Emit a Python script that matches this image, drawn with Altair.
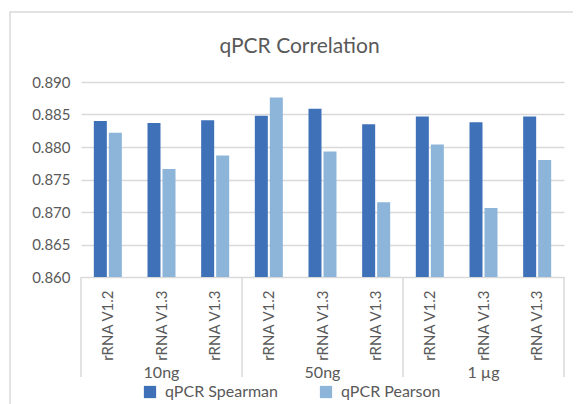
import altair as alt
import pandas as pd

title_text = "qPCR Correlation"
groups = ["10ng", "50ng", "1 µg"]
samples = ["rRNA V1.2", "rRNA V1.3", "rRNA V1.3"]
spearman = [0.8840, 0.8837, 0.8841, 0.8848, 0.8859, 0.8835, 0.8847, 0.8838, 0.8847]
pearson = [0.8822, 0.8766, 0.8787, 0.8876, 0.8793, 0.8715, 0.8804, 0.8706, 0.8780]
series = ["qPCR Spearman", "qPCR Pearson"]
colors = ["#3F71B9", "#8DB5DA"]
y_ticks = [0.860, 0.865, 0.870, 0.875, 0.880, 0.885, 0.890]

FONT = "Lato"
GRAY = "#595959"
LINE = "#d9d9d9"
W, H = 483, 195

ids = []
rows = []
k = 0
for g in groups:
    for s in samples:
        cid = f"{g}|{s}|{k}"
        ids.append(cid)
        rows.append({"cid": cid, "series": series[0], "value": spearman[k]})
        rows.append({"cid": cid, "series": series[1], "value": pearson[k]})
        k += 1
df = pd.DataFrame(rows)

n = len(samples)
starts = pd.DataFrame({"cid": [ids[i * n] for i in range(len(groups))]})
ends = pd.DataFrame({"cid": [ids[-1]]})
mids = pd.DataFrame({"cid": [ids[i * n + n // 2] for i in range(len(groups))], "group": groups})

xscale = alt.Scale(domain=ids, paddingInner=0, paddingOuter=0)

border = alt.Chart(alt.Data(values=[{"a": 1}])).mark_rect(
    fillOpacity=0, stroke=LINE, strokeWidth=1.5
).encode(
    x=alt.value(-71), x2=alt.value(W + 60), y=alt.value(-70), y2=alt.value(H + 150)
)

title = alt.Chart(alt.Data(values=[{"t": title_text}])).mark_text(
    font=FONT, fontSize=21, color=GRAY, baseline="alphabetic", align="center"
).encode(x=alt.value(218.5), y=alt.value(-29), text="t:N")

bars = alt.Chart(df).mark_bar().encode(
    x=alt.X("cid:N", sort=ids, scale=xscale,
            axis=alt.Axis(title=None, labelExpr="split(datum.value, '|')[1]", labelAngle=-90,
                          labelFont=FONT, labelFontSize=15, labelColor=GRAY, labelPadding=13,
                          ticks=False, domain=False, grid=False)),
    xOffset=alt.XOffset("series:N", sort=series,
                        scale=alt.Scale(domain=series, paddingInner=0.133, paddingOuter=0.855)),
    y=alt.Y("value:Q", scale=alt.Scale(domain=[0.86, 0.89], zero=False, clamp=True),
            axis=alt.Axis(title=None, values=y_ticks, format=".3f", labelFont=FONT,
                          labelFontSize=15, labelColor=GRAY, labelPadding=11,
                          domain=False, ticks=False, gridColor=LINE, gridWidth=1.5)),
    color=alt.Color("series:N", sort=series, scale=alt.Scale(domain=series, range=colors),
                    legend=alt.Legend(title=None, orient="none", legendX=61, legendY=302,
                                      direction="horizontal", symbolType="square",
                                      symbolSize=150, symbolStrokeWidth=0, labelFont=FONT,
                                      labelFontSize=16, labelColor=GRAY, columnPadding=40,
                                      labelOffset=7)),
)

sep1 = alt.Chart(starts).mark_rule(color=LINE, strokeWidth=1.5).encode(
    x=alt.X("cid:N", sort=ids, bandPosition=0), y=alt.value(H), y2=alt.value(H + 100)
)
sep2 = alt.Chart(ends).mark_rule(color=LINE, strokeWidth=1.5).encode(
    x=alt.X("cid:N", sort=ids, bandPosition=1), y=alt.value(H), y2=alt.value(H + 100)
)
glabels = alt.Chart(mids).mark_text(font=FONT, fontSize=16, color=GRAY, baseline="middle").encode(
    x=alt.X("cid:N", sort=ids), y=alt.value(H + 96), text="group:N"
)

chart = alt.layer(border, title, bars, sep1, sep2, glabels).properties(
    width=W, height=H,
    padding={"left": 73, "top": 74, "right": 9, "bottom": 127},
    autosize=alt.AutoSizeParams(type="none"),
).configure_view(stroke=None)

chart.save("out.html", embed_options={"renderer": "svg", "actions": False})
